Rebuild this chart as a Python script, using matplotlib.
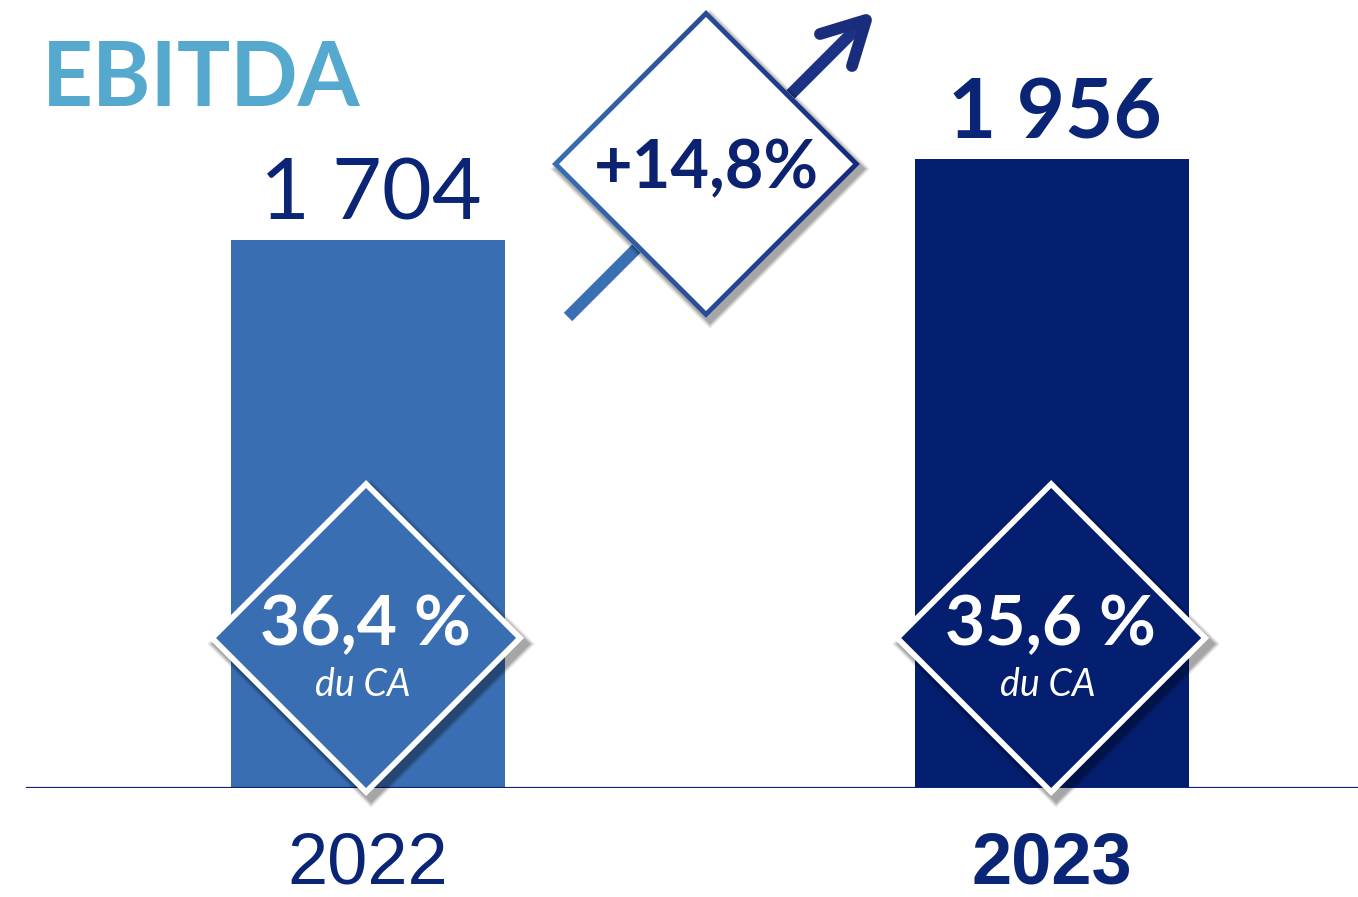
import numpy as np
import matplotlib
matplotlib.use("Agg")
import matplotlib.pyplot as plt
from matplotlib.patches import Polygon, PathPatch
from matplotlib.path import Path
import matplotlib.colors as mcolors

# ---------------- data ----------------
years = ["2022", "2023"]
ebitda = [1704, 1956]
ebitda_labels = ["1 704", "1 956"]
margin_labels = ["36,4 %", "35,6 %"]
margin_sub = "du CA"
growth_label = "+14,8%"
title = "EBITDA"

# ---------------- style ----------------
bar_colors = ["#396EB2", "#041F70"]
navy = "#0A2575"
title_color = "#55A8CE"
light_blue = "#3A6FB4"
dark_blue = "#17297A"

W, H = 1358, 897
fig = plt.figure(figsize=(W / 100, H / 100), dpi=100)
fig.patch.set_facecolor("white")

# main data axes: y=0 at pixel 788 from top, ~0.3216 px per unit
ax = fig.add_axes([0, 109 / H, 1, 788 / H])
ax.set_xlim(-0.538, 1.447)
ax.set_ylim(0, 2450)
ax.axis("off")

x = np.arange(len(years))
ax.bar(x, ebitda, width=0.4006, color=bar_colors, zorder=2)
ax.axhline(0, xmin=27 / W, xmax=1.0, color=navy, lw=1.6, zorder=3)

FONT = "Lato"
# value labels
weights = ["normal", "bold"]
sizes = [62, 60]
for i, (v, lab) in enumerate(zip(ebitda, ebitda_labels)):
    ax.annotate(lab, xy=(x[i], v), xytext=(3, 20), textcoords="offset pixels",
                ha="center", va="baseline", fontsize=sizes[i], color=navy,
                family=FONT, fontweight=weights[i], zorder=5)

# year labels
for i, yl in enumerate(years):
    ax.annotate(yl, xy=(x[i], 0), xytext=(0, -95), textcoords="offset pixels",
                ha="center", va="baseline", fontsize=52, color=navy,
                family=["Liberation Sans Narrow", "Liberation Sans"],
                fontweight="normal" if i == 0 else "bold",
                annotation_clip=False, zorder=5)

# ---------------- decorations in pixel space ----------------
ov = fig.add_axes([0, 0, 1, 1], zorder=10)
ov.set_xlim(0, W)
ov.set_ylim(H, 0)
ov.axis("off")
ov.patch.set_alpha(0)


def diamond(cx, cy, r):
    return np.array([[cx, cy - r], [cx + r, cy], [cx, cy + r], [cx - r, cy]])


def shadow(cx, cy, r, dx=5, dy=6):
    for k, a in zip(range(6), [0.05, 0.05, 0.06, 0.07, 0.08, 0.09]):
        grow = 6 - k
        ov.add_patch(Polygon(diamond(cx + dx, cy + dy, r + grow), closed=True,
                             facecolor="black", edgecolor="none", alpha=a, zorder=1))


# bar diamonds
bar_px = [ax.transData.transform((xi, 0))[0] for xi in x]
for i in range(len(years)):
    cx = bar_px[i] - 2 + i * 1
    cy = 638
    r = 158
    shadow(cx, cy, r)
    ov.add_patch(Polygon(diamond(cx, cy, r), closed=True, facecolor="white",
                         edgecolor="none", zorder=2))
    ov.add_patch(Polygon(diamond(cx, cy, r - 8), closed=True, facecolor=bar_colors[i],
                         edgecolor="none", zorder=3))
    ov.text(cx - 1, 645, margin_labels[i], ha="center", va="baseline", fontsize=50,
            color="white", family=FONT, fontweight="bold", zorder=4)
    ov.text(cx - 3, 696, margin_sub, ha="center", va="baseline", fontsize=27,
            color="white", family=FONT, fontweight="normal", style="italic", zorder=4)

# growth arrow (behind the diamond)
grad_cmap = mcolors.LinearSegmentedColormap.from_list("g", [light_blue, dark_blue])
ov.plot([568, 640], [317, 245], color=light_blue, lw=8.5, solid_capstyle="butt", zorder=1)
ov.plot([780, 864], [105, 21], color="#1C3283", lw=8.5, solid_capstyle="butt", zorder=1)
ov.plot([820, 866, 852], [34, 20, 66], color="#1A2D7C", lw=8.5,
        solid_capstyle="round", solid_joinstyle="round", zorder=1)

# growth diamond with gradient border
gcx, gcy, gr = 706, 164, 154
shadow(gcx, gcy, gr, dx=4, dy=5)
ov.add_patch(Polygon(diamond(gcx, gcy, gr), closed=True, facecolor="white",
                     edgecolor="none", zorder=2))
outer = diamond(gcx, gcy, gr)
inner = diamond(gcx, gcy, gr - 7)[::-1]
verts = np.vstack([outer, outer[:1], inner, inner[:1]])
codes = ([Path.MOVETO] + [Path.LINETO] * 3 + [Path.CLOSEPOLY]) * 2
ring = PathPatch(Path(verts, codes), facecolor="none", edgecolor="none",
                 transform=ov.transData)
ov.add_patch(ring)
grad = np.linspace(0, 1, 256).reshape(1, -1)
im = ov.imshow(grad, cmap=grad_cmap, extent=(gcx - gr, gcx + gr, gcy + gr, gcy - gr),
               aspect="auto", zorder=3, interpolation="bilinear")
im.set_clip_path(ring)
ov.set_xlim(0, W)
ov.set_ylim(H, 0)
ov.text(gcx, 188, growth_label, ha="center", va="baseline", fontsize=48,
        color="#0B2270", family=FONT, fontweight="bold", zorder=4)

# title
ov.text(42, 106, title, ha="left", va="baseline", fontsize=64, color=title_color,
        family=FONT, fontweight="bold", zorder=4)

fig.savefig("out.png", dpi=100, facecolor="white")
